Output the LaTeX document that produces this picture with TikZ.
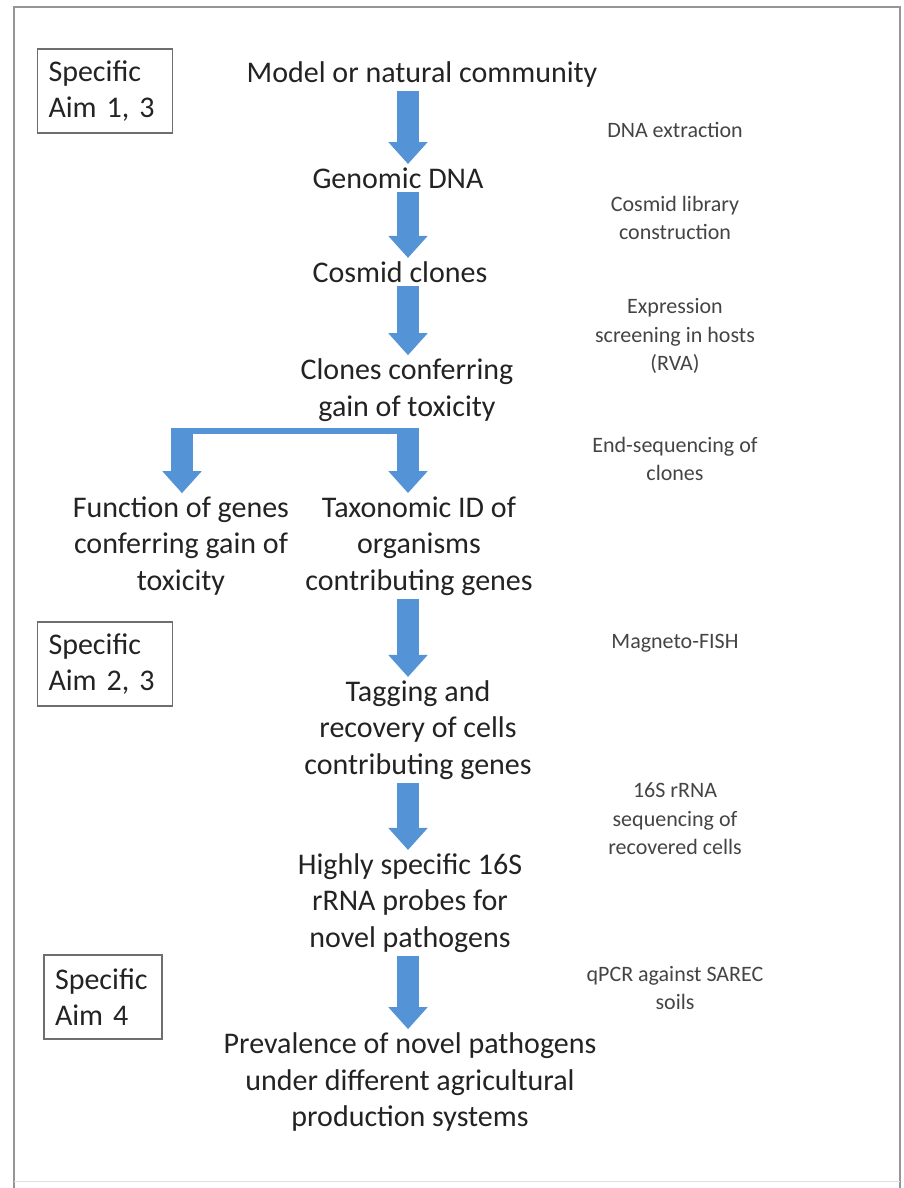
\documentclass[tikz,border=0pt]{standalone}
\usepackage{fontspec}
\setmainfont{Carlito}
\usetikzlibrary{arrows.meta,calc}
\definecolor{arrowblue}{RGB}{84,148,214}
\definecolor{framegray}{RGB}{150,150,150}
\definecolor{boxgray}{RGB}{110,110,110}
\definecolor{inkgray}{RGB}{35,35,35}

\begin{document}
\begin{tikzpicture}[x=1pt,y=-1pt,
    stage/.style={align=center,text=inkgray,font=\fontsize{30}{36.5}\selectfont},
    method/.style={align=center,text=inkgray!85,font=\fontsize{22}{28.5}\selectfont},
    aimbox/.style={draw=boxgray,line width=1.2pt,align=left,text=inkgray,
      inner xsep=11pt,inner ysep=4pt,minimum height=84pt,
      font=\fontsize{30}{36.5}\selectfont},
    blockarr/.style={arrowblue,line width=22pt,
      -{Triangle[width=38pt,length=22pt]}},
    splitbar/.style={arrowblue,line width=6pt}]
  \useasboundingbox (0,0) rectangle (903,1188);
  % frame
  \draw[framegray,line width=1.5pt] (14,1188) -- (14,7) -- (900,7) -- (900,1188);
  \draw[framegray!30,line width=1pt] (14,1181) -- (900,1181);

  % aims
  \draw (105,91) node[aimbox,text width=113pt] (aimA) {Specific\\Aim 1, 3};
  \draw (105,664) node[aimbox,text width=113pt] (aimB) {Specific\\Aim 2, 3};
  \draw (103,997) node[aimbox,text width=96pt] (aimC) {Specific\\Aim 4};

  % main column
  \coordinate (col) at (408,0);
  \draw (422,75) node[stage] (model) {Model or natural community};
  \draw (398,178) node[stage] (dna) {Genomic DNA};
  \draw (400,272) node[stage] (cosmid) {Cosmid clones};
  \draw (407,390) node[stage] (toxic) {Clones conferring\\gain of toxicity};
  \draw (181,546) node[stage] (func) {Function of genes\\conferring gain of\\toxicity};
  \draw (419,546) node[stage] (taxon) {Taxonomic ID of\\organisms\\contributing genes};
  \draw (418,730) node[stage] (tag) {Tagging and\\recovery of cells\\contributing genes};
  \draw (410,903) node[stage] (probe) {Highly specific 16S\\rRNA probes for\\novel pathogens};
  \draw (410,1082) node[stage] (preval) {Prevalence of novel pathogens\\under different agricultural\\production systems};

  % methods
  \draw (675,130) node[method] (extract) {DNA extraction};
  \draw (675,218) node[method] (library) {Cosmid library\\construction};
  \draw (675,336) node[method] (screen) {Expression\\screening in hosts\\(RVA)};
  \draw (675,459) node[method] (endseq) {End-sequencing of\\clones};
  \draw (675,643) node[method] (fish) {Magneto-FISH};
  \draw (675,819) node[method] (rrna) {16S rRNA\\sequencing of\\recovered cells};
  \draw (675,988) node[method] (qpcr) {qPCR against SAREC\\soils};

  % arrows
  \draw[blockarr] (model.south -| col) -- (dna.north -| col);
  \draw[blockarr] (dna.south -| col) -- (cosmid.north -| col);
  \draw[blockarr] (cosmid.south -| col) -- (toxic.north -| col);
  \coordinate (split) at ([yshift=-6pt]toxic.south -| col);
  \coordinate (fcol) at (182,0);
  \draw[splitbar,shorten <=-11pt,shorten >=-11pt] (split -| fcol) -- (split);
  \draw[blockarr,shorten <=-3pt] (split -| fcol) -- (func.north -| fcol);
  \draw[blockarr,shorten <=-3pt] (split) -- (taxon.north -| col);
  \draw[blockarr] (taxon.south -| col) -- (tag.north -| col);
  \draw[blockarr] (tag.south -| col) -- (probe.north -| col);
  \draw[blockarr] (probe.south -| col) -- (preval.north -| col);
\end{tikzpicture}
\end{document}
